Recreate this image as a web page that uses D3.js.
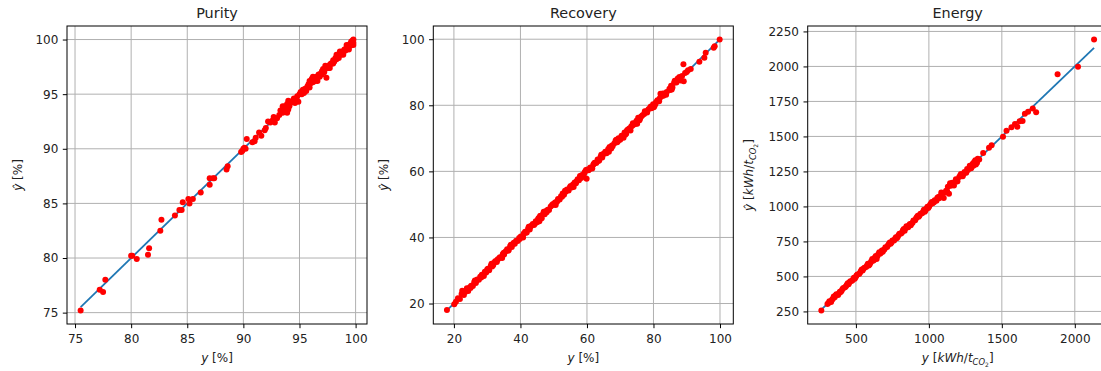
<!DOCTYPE html>
<html>
<head>
<meta charset="utf-8">
<script src="https://cdn.jsdelivr.net/npm/d3@7"></script>
<style>
  body { margin: 0; background: #fff; }
  svg { display: block; font-family: "DejaVu Sans", sans-serif; }
</style>
</head>
<body>
<div id="chart"></div>
<script>
// [true value, predicted value]
const purityPoints = [
  [75.5,75.2],[77.2,77.1],[77.5,76.9],[77.7,78.0],[80.1,80.2],[80.0,80.2],[80.5,79.9],[81.5,80.3],[81.6,80.9],
  [82.6,82.5],[82.7,83.5],[83.9,83.9],[84.3,84.4],[84.5,84.4],[84.6,85.1],[85.1,85.4],[85.2,85.0],[85.5,85.4],
  [86.2,86.0],[87.0,86.7],[87.0,87.3],[87.3,87.3],[87.4,87.3],[88.5,88.1],[88.6,88.4],[89.8,89.7],[89.9,89.8],
  [90.0,90.0],[90.1,90.1],[90.2,90.0],[90.3,90.9],[90.8,90.6],[91.0,90.7],[91.1,91.0],[91.4,91.5],[91.6,91.2],
  [91.9,91.7],[92.0,91.9],[92.2,92.5],[92.4,92.4],[92.6,92.6],[92.7,92.9],[92.8,92.4],[93.0,92.8],[93.2,93.1],
  [93.3,93.5],[93.5,93.3],[93.6,93.5],[93.7,93.9],[93.8,93.4],[93.9,93.3],[93.9,94.1],[94.0,94.4],[94.0,93.6],
  [94.1,93.9],[94.2,94.2],[94.4,94.4],[94.5,94.6],[94.7,94.5],[94.8,94.8],[94.9,94.3],[95.0,95.0],[95.1,95.2],
  [95.2,95.0],[95.3,95.4],[95.5,95.5],[95.6,95.3],[95.7,95.7],[95.8,95.9],[95.9,95.6],[96.0,96.0],[96.1,96.4],
  [96.2,96.1],[96.3,96.3],[96.4,96.2],[96.5,96.6],[96.6,96.5],[96.7,96.8],[96.8,96.6],[96.9,96.9],[97.0,97.1],
  [97.1,97.3],[97.2,97.0],[97.3,97.3],[97.4,96.5],[97.5,97.5],[97.6,97.4],[97.7,97.7],[97.8,97.8],[97.9,97.8],
  [98.0,98.1],[98.1,98.0],[98.2,98.3],[98.3,98.2],[98.4,98.5],[98.5,98.3],[98.6,98.7],[98.7,98.6],[98.8,98.9],
  [98.9,98.8],[99.0,99.1],[99.1,99.0],[99.2,99.3],[99.3,99.2],[99.4,99.5],[99.5,99.4],[99.5,99.6],[99.6,99.8],
  [99.6,99.5],[99.7,99.9],[99.7,99.6],[99.8,100.0],[99.8,99.7],[99.8,99.5],
  [96.2,96.6],[96.6,96.2],[97.0,96.8],[97.3,97.6],[97.7,97.4],[98.0,97.8],[98.3,98.6],[98.6,98.9],[98.9,98.6],
  [99.2,99.5],[99.4,99.1],[95.4,95.1],[95.9,96.2],[94.6,94.2],[93.5,93.9]
];

const recoveryPoints = [
  [17.9,18.0],[20.1,19.8],[20.6,20.5],[21.2,21.6],[21.8,21.4],[22.3,22.9],[22.5,23.9],[23.0,22.6],[23.4,23.5],
  [23.9,24.6],[24.3,23.8],[24.8,24.9],[25.2,25.4],[25.7,25.3],[26.1,26.4],[26.6,26.2],[27.0,27.3],[27.5,27.2],
  [27.9,28.1],[28.4,28.7],[28.8,28.5],[29.3,29.6],[29.7,29.4],[30.2,30.5],[30.6,30.1],[31.1,31.4],[31.5,31.2],
  [32.0,32.3],[32.4,32.8],[32.9,32.6],[33.3,33.5],[33.8,34.0],[34.2,33.9],[34.7,35.0],[35.1,34.8],[35.6,35.8],
  [36.0,36.4],[36.5,36.2],[36.9,37.3],[37.4,37.1],[37.8,38.0],[38.3,38.1],[38.7,39.0],[39.2,38.9],[39.6,39.8],
  [40.1,40.3],[40.5,40.2],[41.0,41.2],[41.4,41.7],[41.9,41.5],[42.3,42.6],[42.8,42.4],[43.2,43.5],[43.7,44.1],
  [44.1,43.8],[44.6,44.9],[45.0,44.6],[45.5,45.9],[45.9,46.5],[46.4,45.8],[46.8,47.1],[47.3,47.0],[47.7,48.0],
  [48.2,48.4],[48.6,48.3],[49.1,49.4],[49.5,49.8],[50.0,49.9],[50.4,50.6],[50.9,50.7],[51.3,51.6],[51.8,51.5],
  [52.2,52.5],[52.7,53.3],[53.1,52.9],[53.6,53.8],[54.0,54.5],[54.5,54.2],[54.9,55.3],[55.4,55.1],[55.8,56.0],
  [56.3,56.6],[56.7,56.4],[57.2,57.6],[57.6,57.3],[58.1,58.5],[58.5,58.9],[59.0,58.7],[59.4,59.9],[59.9,57.8],
  [60.1,60.6],[60.5,60.3],[61.0,61.2],[61.4,61.0],[61.9,62.0],[62.3,62.6],[62.8,62.5],[63.2,63.6],[63.7,63.3],
  [64.1,64.4],[64.6,64.2],[65.0,65.3],[65.5,65.9],[65.9,65.5],[66.4,66.8],[66.8,67.4],[67.3,66.9],[67.7,67.6],
  [68.2,68.4],[68.6,69.3],[69.1,68.8],[69.5,70.0],[70.0,69.6],[70.4,70.8],[70.9,70.5],[71.3,71.8],[71.8,71.4],
  [72.2,72.6],[72.7,73.0],[73.1,72.4],[73.6,73.8],[74.0,74.1],[74.5,74.3],[74.9,75.3],[75.4,76.2],[75.8,75.5],
  [76.3,76.6],[76.7,77.0],[77.2,77.4],[77.6,77.9],[78.1,77.8],[78.5,78.8],[79.0,79.3],[79.4,79.1],[79.9,80.3],
  [80.3,79.8],[80.8,81.0],[81.2,81.5],[81.7,81.2],[82.1,83.5],[82.5,82.8],[83.0,82.9],[83.4,83.6],[84.0,84.0],
  [84.8,85.0],[85.3,85.9],[85.7,85.4],[86.2,86.8],[86.4,87.4],[86.9,86.9],[87.3,88.1],[87.8,88.6],[88.2,87.5],
  [88.6,88.9],[89.0,92.4],[89.1,87.3],[89.5,89.8],[90.0,90.1],[90.4,90.6],[91.2,91.0],[93.8,93.2],[95.3,94.4],
  [95.7,95.9],[98.1,97.4],[98.4,97.9],[99.9,99.9],
  [25.0,24.7],[26.8,27.0],[28.2,27.9],[30.0,30.3],[31.8,31.6],[33.0,33.2],[35.0,35.4],[36.3,36.0],[38.0,38.4],
  [39.8,39.5],[41.6,41.4],[43.0,43.3],[44.4,44.2],[45.3,45.6],[46.1,46.6],[47.9,47.6],[49.8,50.1],[51.1,51.0],
  [52.5,52.3],[53.9,54.2],[55.1,55.6],[56.9,57.0],[58.3,58.0],[59.2,59.5],[59.7,60.4],[60.8,60.7],[62.1,62.3],
  [63.4,63.1],[64.8,65.0],[66.1,66.1],[67.5,67.8],[69.3,69.1],[70.6,70.4],[71.5,71.1],[72.0,72.3],[73.3,73.6],
  [74.7,74.8],[76.0,76.1],[77.9,78.2],[79.2,79.6],[80.6,80.4],[81.9,82.1],[83.8,83.2],[85.0,84.6],
  [26.3,27.0],[29.0,28.3],[31.3,32.0],[34.5,33.8],[37.1,37.8],[40.8,40.0],[42.5,43.2],[45.7,44.9],[47.0,47.8],
  [50.6,49.8],[53.4,54.1],[56.0,55.3],[57.9,58.6],[61.6,60.9],[64.3,65.0],[66.6,65.9],[68.8,69.6],[71.0,70.2],
  [73.8,74.6],[75.1,74.4],[77.4,78.2],[80.1,79.4],[82.8,83.6],[85.5,84.8]
];

const energyPoints = [
  [263,257],[305,303],[318,322],[330,318],[342,340],[355,352],[366,372],[378,367],[390,391],[402,398],[414,418],
  [426,422],[438,441],[450,445],[462,465],[474,470],[486,490],[498,494],[510,514],[522,518],[534,539],[546,543],
  [558,562],[570,567],[582,590],[594,585],[606,610],[618,612],[630,636],[642,624],[654,660],[666,663],[678,685],
  [690,688],[702,708],[714,710],[726,732],[738,734],[750,756],[762,757],[774,780],[786,781],[798,804],[810,806],
  [822,830],[834,826],[846,858],[858,852],[870,875],[882,878],[894,900],[906,902],[918,925],[930,926],[942,948],
  [954,951],[966,976],[978,972],[990,998],[1002,1000],[1014,1021],[1026,1022],[1040,1045],[1052,1040],[1065,1068],
  [1078,1075],[1090,1085],[1102,1060],[1112,1100],[1125,1108],[1138,1090],[1150,1148],[1160,1170],[1172,1150],
  [1185,1195],[1196,1180],[1208,1210],[1220,1232],[1232,1215],[1244,1246],[1256,1240],[1268,1260],[1280,1290],
  [1290,1272],[1300,1305],[1310,1318],[1322,1300],[1335,1340],[1345,1335],[1372,1382],[1412,1420],[1430,1437],
  [1508,1498],[1532,1540],[1566,1566],[1590,1588],[1606,1570],[1622,1608],[1642,1610],[1658,1662],[1680,1676],
  [1712,1700],[1735,1672],[1882,1945],[2022,1997],[2132,2192],
  [312,310],[336,333],[360,363],[384,380],[408,410],[432,430],[456,458],[480,478],[504,506],[528,526],[552,554],
  [576,578],[600,598],[612,625],[624,618],[648,646],[660,672],[672,670],[696,694],[720,722],[744,742],[768,770],
  [792,794],[816,814],[840,845],[864,866],[888,884],[912,915],[936,935],[960,962],[984,985],[996,988],[1008,1012],
  [1035,1030],[1058,1062],[1085,1100],[1118,1112],[1145,1165],[1165,1160],[1192,1178],[1215,1222],[1238,1232],
  [1262,1268],[1285,1280],[1305,1290],[1318,1330],[1330,1312],
  [348,356],[396,388],[444,452],[492,484],[540,550],[588,578],[636,646],[684,676],[732,742],[780,772],[828,838],
  [876,866],[924,934],[972,962],[1020,1032],[1070,1058],[1130,1140]
];

const purityTicks = [75, 80, 85, 90, 95, 100];
const recoveryTicks = [20, 40, 60, 80, 100];
const energyXTicks = [500, 1000, 1500, 2000];
const energyYTicks = [250, 500, 750, 1000, 1250, 1500, 1750, 2000, 2250];

const titles = ["Purity", "Recovery", "Energy"];

function standardParameters() {
  return {
    width: 1101,
    height: 371,
    panelTop: 26,
    panelWidth: 300,
    panelHeight: 298,
    panelLefts: [67, 433.3, 807.7],
    tickSize: 4.2,
    fontSize: 12,
    titleSize: 14.4,
    textColor: "#222",
    gridColor: "#b0b0b0",
    lineColor: "#1f77b4",
    lineWidth: 1.8,
    pointColor: "red",
    pointRadius: 3,
    yLabelOffsets: [45, 45, 55]
  };
}

function createSvg(pars) {
  return d3.select("#chart").append("svg")
    .attr("width", pars.width)
    .attr("height", pars.height);
}

function paddedExtent(values) {
  const [lo, hi] = d3.extent(values);
  const pad = (hi - lo) * 0.05;
  return [lo - pad, hi + pad];
}

function createScales(points, pars) {
  const xs = points.map(d => d[0]);
  const ys = points.map(d => d[1]).concat(xs);
  const x = d3.scaleLinear().domain(paddedExtent(xs)).range([0, pars.panelWidth]);
  const y = d3.scaleLinear().domain(paddedExtent(ys)).range([pars.panelHeight, 0]);
  return {x, y};
}

// label parts: text, italic, font scale, dy in px
function addLabel(g, parts, pars) {
  const text = g.append("text")
    .attr("fill", pars.textColor)
    .style("font-size", pars.fontSize + "px");
  parts.forEach(p => {
    text.append("tspan")
      .attr("dy", p.dy || 0)
      .style("font-style", p.italic ? "italic" : "normal")
      .style("font-size", (pars.fontSize * (p.scale || 1)) + "px")
      .text(p.text);
  });
  return text;
}

function percentLabel(hat) {
  return [{text: hat ? "\u0177" : "y", italic: true}, {text: " [%]"}];
}

function energyLabel(hat) {
  return [
    {text: hat ? "\u0177" : "y", italic: true},
    {text: " ["},
    {text: "kWh", italic: true},
    {text: "/"},
    {text: "t", italic: true},
    {text: "CO", italic: true, scale: 0.7, dy: 3},
    {text: "2", scale: 0.5, dy: 2},
    {text: "]", dy: -5}
  ];
}

function drawPanel(svg, pars, index, points, xTicks, yTicks, labelFn) {
  const left = pars.panelLefts[index];
  const {x, y} = createScales(points, pars);
  const g = svg.append("g").attr("transform", `translate(${left},${pars.panelTop})`);

  // grid
  g.selectAll(".gx").data(xTicks).enter().append("line")
    .attr("x1", d => x(d)).attr("x2", d => x(d))
    .attr("y1", 0).attr("y2", pars.panelHeight)
    .attr("stroke", pars.gridColor).attr("stroke-width", 1);
  g.selectAll(".gy").data(yTicks).enter().append("line")
    .attr("x1", 0).attr("x2", pars.panelWidth)
    .attr("y1", d => y(d)).attr("y2", d => y(d))
    .attr("stroke", pars.gridColor).attr("stroke-width", 1);

  // y = x reference line over the range of true values
  const [lo, hi] = d3.extent(points, d => d[0]);
  g.append("line")
    .attr("x1", x(lo)).attr("y1", y(lo))
    .attr("x2", x(hi)).attr("y2", y(hi))
    .attr("stroke", pars.lineColor)
    .attr("stroke-width", pars.lineWidth);

  g.selectAll(".pt").data(points).enter().append("circle")
    .attr("cx", d => x(d[0]))
    .attr("cy", d => y(d[1]))
    .attr("r", pars.pointRadius)
    .attr("fill", pars.pointColor);

  // spines
  g.append("rect")
    .attr("width", pars.panelWidth).attr("height", pars.panelHeight)
    .attr("fill", "none").attr("stroke", "#000").attr("stroke-width", 1);

  const xAxis = g.append("g")
    .attr("transform", `translate(0,${pars.panelHeight})`)
    .call(d3.axisBottom(x).tickValues(xTicks).tickFormat(d3.format("d"))
      .tickSize(pars.tickSize).tickPadding(6.5));
  const yAxis = g.append("g")
    .call(d3.axisLeft(y).tickValues(yTicks).tickFormat(d3.format("d"))
      .tickSize(pars.tickSize).tickPadding(4.5));
  [xAxis, yAxis].forEach(a => {
    a.select(".domain").remove();
    a.selectAll("line").attr("stroke", "#000");
    a.selectAll("text")
      .attr("fill", pars.textColor)
      .style("font-size", pars.fontSize + "px")
      .style("font-family", "DejaVu Sans, sans-serif");
  });

  g.append("text")
    .attr("x", pars.panelWidth / 2)
    .attr("y", -8.5)
    .attr("text-anchor", "middle")
    .attr("fill", pars.textColor)
    .style("font-size", pars.titleSize + "px")
    .text(titles[index]);

  addLabel(g, labelFn(false), pars)
    .attr("text-anchor", "middle")
    .attr("transform", `translate(${pars.panelWidth / 2},${pars.panelHeight + 38})`);

  addLabel(g, labelFn(true), pars)
    .attr("text-anchor", "middle")
    .attr("transform", `translate(${-pars.yLabelOffsets[index]},${pars.panelHeight / 2}) rotate(-90)`);
}

const pars = standardParameters();
const svg = createSvg(pars);
drawPanel(svg, pars, 0, purityPoints, purityTicks, purityTicks, percentLabel);
drawPanel(svg, pars, 1, recoveryPoints, recoveryTicks, recoveryTicks, percentLabel);
drawPanel(svg, pars, 2, energyPoints, energyXTicks, energyYTicks, energyLabel);
</script>
</body>
</html>
